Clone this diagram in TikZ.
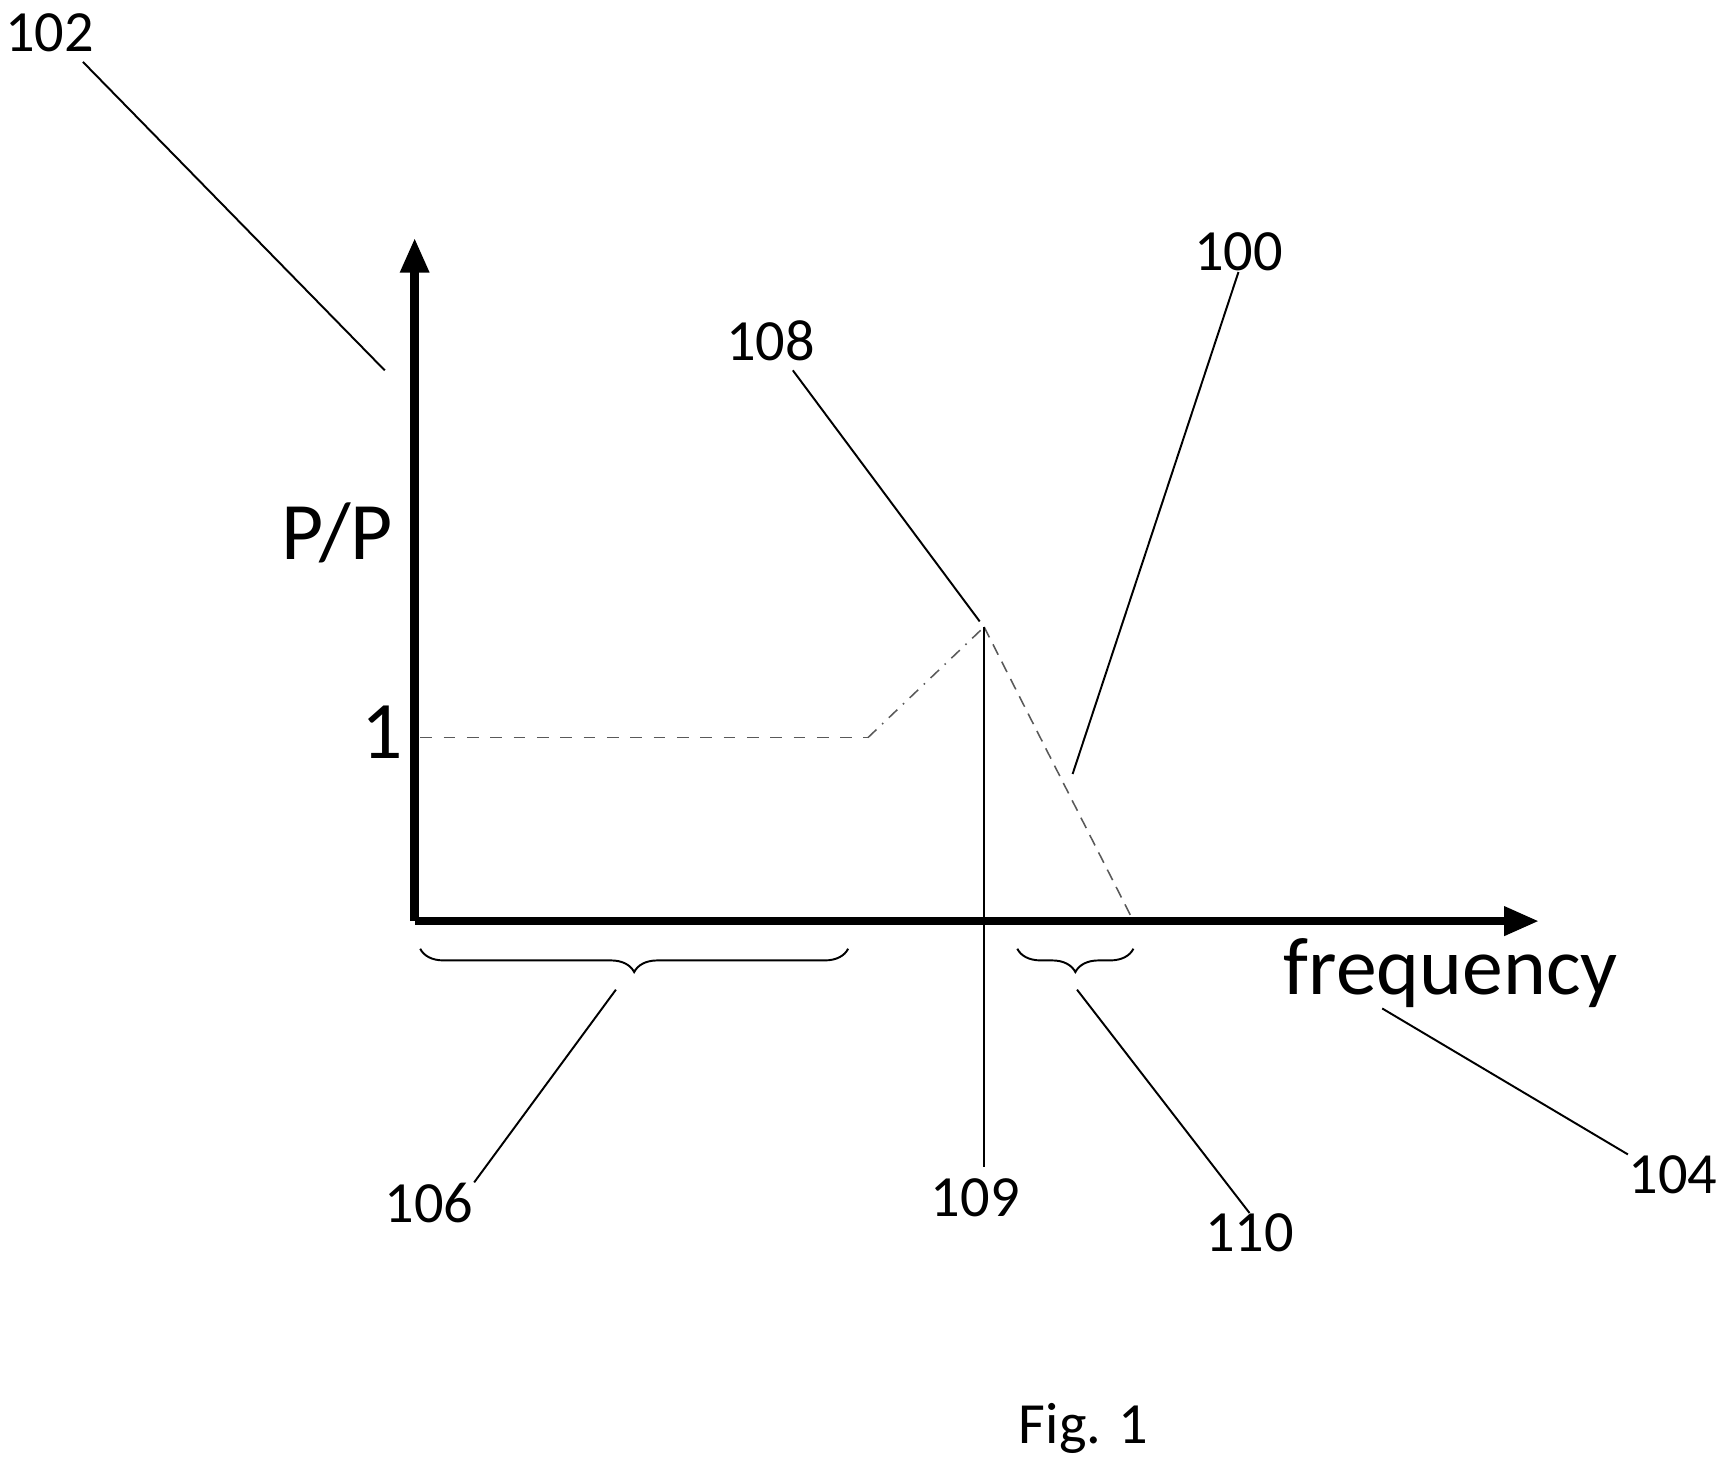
\documentclass[tikz,border=0pt]{standalone}
\usepackage{fontspec}
\setmainfont{Carlito}
\usetikzlibrary{arrows.meta,decorations.pathreplacing}
\begin{document}
\begin{tikzpicture}[x=0.01cm,y=-0.01cm,thin,
    lbl/.style={font=\fontsize{15}{17}\selectfont,inner sep=0pt},
    big/.style={font=\fontsize{21}{23}\selectfont,inner sep=0pt},
    axis/.style={line width=2.2pt,-{Triangle[length=9pt,width=7pt]}},
    lead/.style={line width=0.5pt},
    brc/.style={decorate,decoration={brace,mirror,amplitude=6pt},line width=0.5pt}]
        \useasboundingbox (0,0) rectangle (1560,1328);
        % axes
        \coordinate (O) at (375,833);
        \coordinate (ytop) at (375,215);
        \coordinate (xend) at (1392,833);
        \draw[axis] (O) -- (ytop);
        \draw[axis] (O) -- (xend);
        \node[big] (pp) at (305,482) {P/P};
        \node[big] (one) at (346,662) {1};
        \node[big] (freq) at (1312,880) {frequency};
        % curve 100
        \coordinate (c1) at (380,667);
        \coordinate (c2) at (785,667);
        \coordinate (pk) at (890,567);
        \coordinate (c3) at (1025,833);
        \draw[dashed,gray!70!black] (c1) -- (c2);
        \draw[dash dot,gray!70!black] (c2) -- (pk);
        \draw[densely dashed,gray!70!black] (pk) -- (c3);
        % 109
        \coordinate (v1) at (890,1055);
        \draw[lead] (pk) -- (v1);
        \node[lbl] (n109) at (882,1083) {109};
        % braces
        \coordinate (b1) at (380,858);
        \coordinate (b2) at (767,858);
        \coordinate (b3) at (920,858);
        \coordinate (b4) at (1025,858);
        \draw[brc] (b1) -- (b2);
        \draw[brc] (b3) -- (b4);
        % labels and leaders
        \node[lbl] (n106) at (388,1088) {106};
        \node[lbl] (n110) at (1130,1115) {110};
        \node[lbl] (n104) at (1513,1062) {104};
        \node[lbl] (n102) at (45,30) {102};
        \node[lbl] (n108) at (697,308) {108};
        \node[lbl] (n100) at (1120,228) {100};
        \node[lbl] (fig) at (980,1292) {Fig. 1};
        \coordinate (t106) at (557,895);
        \coordinate (t110) at (974,895);
        \coordinate (t104) at (1250,912);
        \coordinate (t102) at (348,335);
        \coordinate (t100) at (970,700);
        \coordinate (t108) at (886,562);
        \draw[lead] (t106) -- (n106.north east);
        \draw[lead] (t110) -- (n110.north);
        \draw[lead] (t104) -- (n104.north west);
        \draw[lead] (n102.south) ++(30,8) -- (t102);
        \draw[lead] (n108.south) ++(20,8) -- (t108);
        \draw[lead] (n100.south) -- (t100);
\end{tikzpicture}
\end{document}
